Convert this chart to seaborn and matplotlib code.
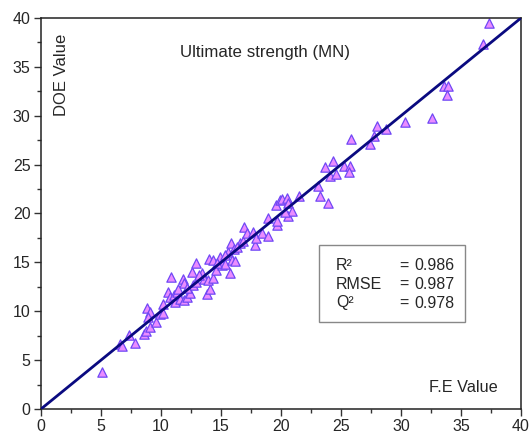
import numpy as np
import pandas as pd
import seaborn as sns
from matplotlib import pyplot as plt
from matplotlib.patches import Rectangle
from matplotlib.ticker import MultipleLocator

# F.E values (x) and DOE values (y)
fe_value = [5.05, 6.6, 6.75, 7.35, 7.8, 8.55, 8.75, 9.05, 9.6, 8.85, 9.1, 8.95, 9.9, 10.2,
            10.15, 10.85, 10.6, 10.75, 11.1, 11.15, 11.35, 11.6, 11.8, 11.95, 11.9, 12.15,
            12.45, 12.6, 12.65, 12.95, 12.9, 13.45, 13.55, 13.8, 14.05, 14.0, 13.9, 14.35,
            14.35, 14.6, 14.9, 15.05, 15.35, 15.6, 15.75, 15.85, 15.95, 16.1, 16.15, 16.6,
            16.85, 16.95, 17.15, 17.7, 17.8, 17.95, 18.4, 18.9, 18.95, 19.55, 19.65, 19.7,
            19.95, 20.6, 20.05, 20.5, 20.6, 20.9, 20.3, 21.5, 23.05, 23.25, 23.9, 23.7,
            24.3, 24.1, 24.6, 25.25, 25.75, 25.65, 25.8, 27.4, 27.75, 28.0, 28.75, 30.3,
            32.55, 33.6, 33.9, 33.8, 36.8, 37.35, 11.4, 12.2, 13.2, 14.7, 16.3, 15.3]
doe_value = [3.75, 6.7, 6.4, 7.6, 6.8, 7.65, 8.0, 8.35, 8.9, 10.3, 9.95, 9.45, 9.7, 9.8,
             10.75, 13.5, 12.0, 11.5, 11.7, 10.9, 12.0, 11.3, 13.3, 12.9, 11.2, 11.5,
             11.9, 14.05, 12.7, 14.9, 13.0, 13.95, 13.3, 11.8, 12.3, 15.35, 13.2, 15.2,
             13.4, 14.2, 15.5, 14.7, 14.8, 16.1, 13.9, 16.95, 15.2, 16.4, 15.1, 16.95,
             17.2, 18.6, 18.05, 18.15, 16.8, 17.5, 18.0, 17.7, 19.5, 20.9, 18.8, 19.2,
             21.4, 19.7, 21.5, 21.6, 21.1, 20.3, 20.2, 21.8, 22.85, 21.8, 21.1, 24.8,
             25.4, 23.8, 24.0, 24.9, 24.9, 24.2, 27.6, 27.1, 27.9, 29.0, 28.6, 29.4,
             29.8, 33.0, 33.0, 32.1, 37.3, 39.5, 12.3, 12.4, 13.7, 14.9, 16.6, 15.8]
ideal_line = [0, 40]

stats_names = ["R²", "RMSE", "Q²"]
stats_values = ["0.986", "0.987", "0.978"]

#%%
sns.set_style("ticks")
plt.rcParams["font.family"] = ["Liberation Sans", "DejaVu Sans"]

fig = plt.figure(figsize=(5.29, 4.34), dpi=100)
ax = fig.add_axes([41 / 529, 25 / 434, 480 / 529, 391 / 434])

df = pd.DataFrame({"fe": fe_value, "doe": doe_value})
ax.plot(ideal_line, ideal_line, color="#0a0a80", linewidth=2, zorder=3)
sns.scatterplot(data=df, x="fe", y="doe", marker="^", s=45, color="#ea8cff",
                edgecolor="#7048f5", linewidth=0.9, ax=ax, zorder=2)

ax.set_xlim(0, 40)
ax.set_ylim(0, 40)
ax.xaxis.set_major_locator(MultipleLocator(5))
ax.yaxis.set_major_locator(MultipleLocator(5))
ax.xaxis.set_minor_locator(MultipleLocator(2.5))
ax.yaxis.set_minor_locator(MultipleLocator(2.5))
ax.tick_params(which="major", direction="out", length=5, width=1, labelsize=11.5,
               color="#333333", pad=2.5)
ax.tick_params(which="minor", direction="out", length=3, width=1, color="#333333")
ax.set_xlabel("")
ax.set_ylabel("")
for sp in ax.spines.values():
    sp.set_color("#222222")
    sp.set_linewidth(1.1)

ax.text(18.7, 36.5, "Ultimate strength (MN)", fontsize=12.2, ha="center", va="center")
ax.text(1.7, 34.2, "DOE Value", fontsize=12, rotation=90, ha="center", va="center")
ax.text(35.2, 2.25, "F.E Value", fontsize=11.7, ha="center", va="center")

ax.add_patch(Rectangle((278 / 480, 87 / 391), 146 / 480, 77 / 391, transform=ax.transAxes,
                       fill=False, edgecolor="#888888", linewidth=1, zorder=4))
for i, (name, val) in enumerate(zip(stats_names, stats_values)):
    yy = (409 - 266 - i * 18.5) / 391
    ax.text(295 / 480, yy, name, transform=ax.transAxes, fontsize=11.5, va="center")
    ax.text(358 / 480, yy, "=", transform=ax.transAxes, fontsize=11.5, va="center")
    ax.text(373 / 480, yy, val, transform=ax.transAxes, fontsize=11.5, va="center")

plt.savefig("out.png", dpi=100)
plt.close()
